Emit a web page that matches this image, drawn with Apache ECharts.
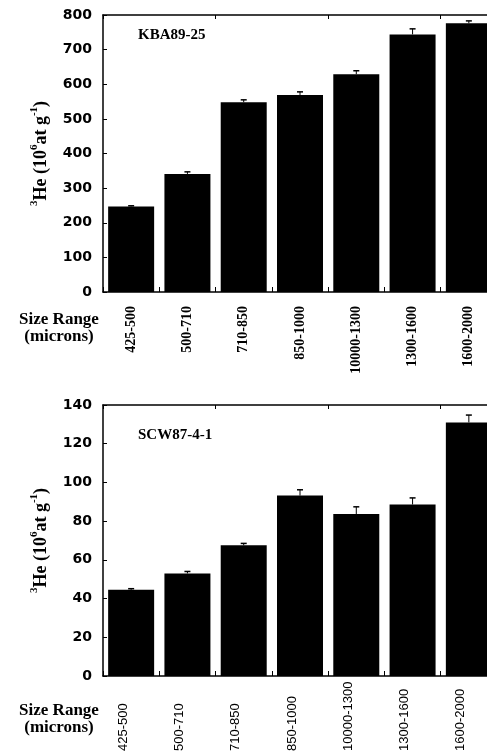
<!DOCTYPE html>
<html><head><meta charset="utf-8">
<script src="https://cdn.jsdelivr.net/npm/echarts/dist/echarts.min.js"></script>
<style>html,body{margin:0;padding:0;background:#fff;overflow:hidden;width:487px;height:754px}#c{width:500px;height:754px}</style>
</head><body><div id="c"></div>
<script>
const categories = ['425-500','500-710','710-850','850-1000','10000-1300','1300-1600','1600-2000'];
const kbaValues = [247, 341, 548, 569, 629, 744, 776];
const kbaErrors = [2, 6, 7, 9, 10, 16, 7];
const scwValues = [44.5, 53, 67.5, 93.2, 83.7, 88.6, 131];
const scwErrors = [0.6, 1, 1, 3, 3.7, 3.4, 3.8];
const kbaAxis = {min: 0, max: 800, interval: 100};
const scwAxis = {min: 0, max: 140, interval: 20};
const titles = ['KBA89-25', 'SCW87-4-1'];

const SERIF = '"Liberation Serif", "Times New Roman", serif';
const SANS = '"DejaVu Sans", sans-serif';
const axisLineStyle = {color: '#000', width: 1.5};

function yAxis(gi, ax) {
  return {
    gridIndex: gi, type: 'value', min: ax.min, max: ax.max, interval: ax.interval,
    axisLine: {show: true, lineStyle: axisLineStyle},
    axisTick: {show: true, inside: true, length: 4, lineStyle: {color: '#000', width: 1}},
    splitLine: {show: false},
    axisLabel: {margin: 11, fontFamily: SANS, fontWeight: 'bold', fontSize: 14, color: '#000'},
    name: '{s|3}{b|He (10}{s|6}{b|at g}{s|-1}{b|)}',
    nameLocation: 'middle', nameGap: 53, nameRotate: 90,
    nameTextStyle: {
      color: '#000',
      rich: {
        b: {fontFamily: SERIF, fontWeight: 'bold', fontSize: 18, color: '#000', lineHeight: 21, verticalAlign: 'bottom'},
        s: {fontFamily: SERIF, fontWeight: 'bold', fontSize: 11, color: '#000', lineHeight: 12, verticalAlign: 'top'}
      }
    }
  };
}
function topAxis(gi) {
  return {
    gridIndex: gi, type: 'category', data: categories, position: 'top',
    axisLine: {show: true, lineStyle: axisLineStyle},
    axisTick: {show: true, inside: true, length: 4, lineStyle: {color: '#000'}},
    axisLabel: {show: false}
  };
}
function errSeries(xi, vals, errs) {
  return {
    type: 'custom', xAxisIndex: xi, yAxisIndex: xi === 0 ? 0 : 1, z: 5,
    data: vals.map((v, i) => [i, v, v + errs[i]]),
    encode: {x: 0, y: [1, 2]},
    renderItem: function (params, api) {
      const b = api.coord([api.value(0), api.value(1)]);
      const t = api.coord([api.value(0), api.value(2)]);
      return {type: 'group', children: [
        {type: 'line', shape: {x1: b[0], y1: b[1], x2: b[0], y2: t[1]}, style: {stroke: '#000', lineWidth: 1}},
        {type: 'line', shape: {x1: b[0] - 3, y1: t[1], x2: b[0] + 3, y2: t[1]}, style: {stroke: '#000', lineWidth: 1.5}}
      ]};
    }
  };
}

const option = {
  animation: false,
  backgroundColor: '#fff',
  grid: [
    {left: 103, top: 15, width: 394, height: 277},
    {left: 103, top: 405, width: 394, height: 276}
  ],
  xAxis: [
    {
      gridIndex: 0, type: 'category', data: categories,
      axisLine: {show: true, lineStyle: axisLineStyle},
      axisTick: {show: true, inside: true, length: 5, lineStyle: {color: '#000'}},
      axisLabel: {interval: 0, rotate: 90, margin: 14, fontFamily: SERIF, fontWeight: 'bold', fontSize: 14, color: '#000'}
    },
    topAxis(0),
    {
      gridIndex: 1, type: 'category', data: categories,
      axisLine: {show: true, lineStyle: axisLineStyle},
      axisTick: {show: true, inside: true, length: 5, lineStyle: {color: '#000'}},
      axisLabel: {interval: 0, rotate: 90, align: 'left', margin: 75,
        formatter: '{a|{value}}',
        rich: {a: {fontFamily: '"Liberation Sans", Arial, sans-serif', fontSize: 13, color: '#000', padding: [0, 0, 16, 0]}},
        fontFamily: '"Liberation Sans", Arial, sans-serif', fontSize: 13, color: '#000'}
    },
    topAxis(1)
  ],
  yAxis: [yAxis(0, kbaAxis), yAxis(1, scwAxis)],
  series: [
    {type: 'bar', xAxisIndex: 0, yAxisIndex: 0, data: kbaValues, barWidth: 46, itemStyle: {color: '#000'}},
    errSeries(0, kbaValues, kbaErrors),
    {type: 'bar', xAxisIndex: 2, yAxisIndex: 1, data: scwValues, barWidth: 46, itemStyle: {color: '#000'}},
    errSeries(2, scwValues, scwErrors)
  ],
  graphic: [
    {type: 'text', left: 138, top: 28, style: {text: titles[0], font: 'bold 15px ' + SERIF, fill: '#000'}},
    {type: 'text', left: 138, top: 428, style: {text: titles[1], font: 'bold 15px ' + SERIF, fill: '#000'}},
    {type: 'text', x: 59, y: 311, style: {text: 'Size Range\n(microns)', font: 'bold 17px ' + SERIF, fill: '#000', align: 'center', lineHeight: 17}},
    {type: 'text', x: 59, y: 702, style: {text: 'Size Range\n(microns)', font: 'bold 17px ' + SERIF, fill: '#000', align: 'center', lineHeight: 17}}
  ]
};
const chart = echarts.init(document.getElementById('c'), null, {renderer: 'canvas'});
chart.setOption(option);
</script>
</body></html>
